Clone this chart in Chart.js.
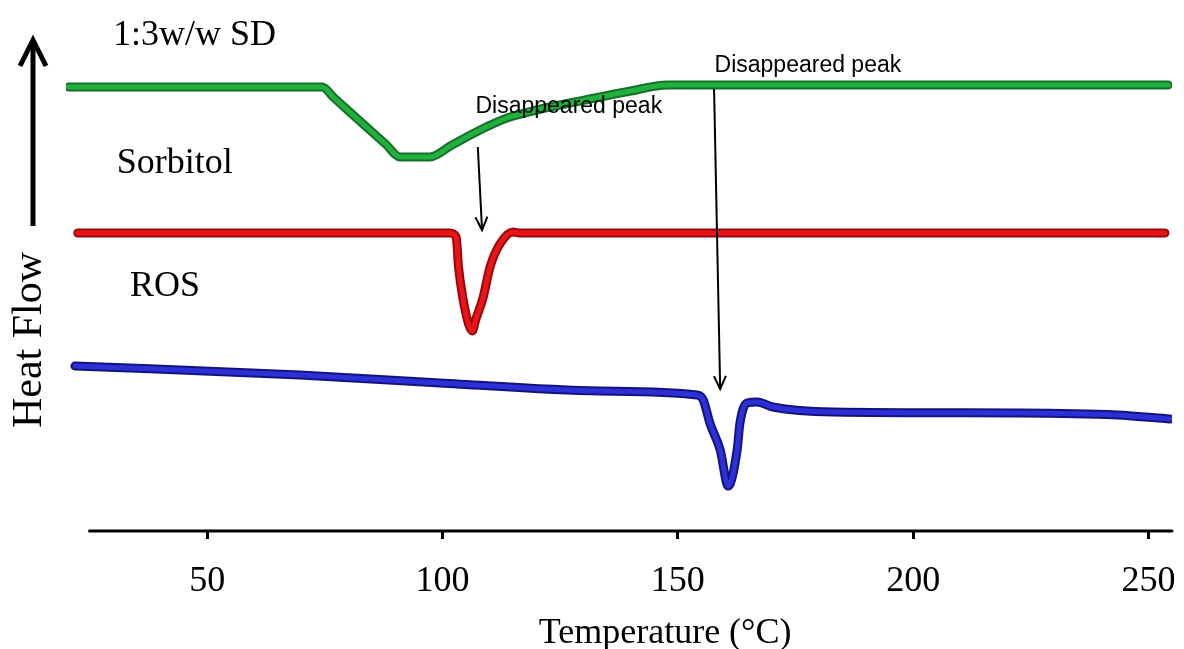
<!DOCTYPE html>
<html>
<head>
<meta charset="utf-8">
<script src="https://cdn.jsdelivr.net/npm/chart.js@4.4.1/dist/chart.umd.min.js"></script>
<style>
  html, body { margin: 0; padding: 0; background: #fff; }
  #wrap { width: 1184px; height: 649px; }
</style>
</head>
<body>
<div id="wrap"><canvas id="dsc"></canvas></div>
<script>
// temperature (°C) and heat flow (arbitrary units)
const sdTemp = [20.5, 74.4, 77.0, 88.0, 91.0, 97.3, 102.0, 108.0, 113.7, 120.0, 131.3, 140.0, 147.7, 254.2];
const sdFlow = [88.8, 88.8, 86.6, 77.3, 74.8, 74.8, 77.2, 80.2, 82.6, 84.2, 86.4, 88.0, 89.2, 89.2];

const sorbTemp = [22.5, 101.5, 102.9, 103.4, 104.4, 105.6, 106.3, 107.1, 108.6, 110.1, 112.2, 115.0, 116.3, 253.5];
const sorbFlow = [59.6, 59.6, 58.8, 52.8, 46.2, 41.2, 40.0, 42.4, 46.6, 52.8, 57.4, 59.8, 59.6, 59.6];

const rosTemp = [21.9, 69.7, 99.5, 133.5, 154.1, 155.4, 156.8, 159.0, 160.7, 162.6, 163.2, 164.7, 166.8, 170.2, 183.0, 222.7, 243.3, 254.6];
const rosFlow = [33.0, 31.2, 29.6, 28.0, 27.2, 26.2, 21.6, 16.2, 9.0, 16.2, 21.6, 25.6, 25.8, 24.8, 23.8, 23.6, 23.2, 22.4];

const xTicks = [50, 100, 150, 200, 250];

const toPts = (xs, ys) => xs.map((x, i) => ({ x: x, y: ys[i] }));

// each curve = bright core drawn over a dark outline (dataset 0 is drawn last)
let curve = (xs, ys, edge, core, mode) => [
  { data: toPts(xs, ys), borderColor: core, borderWidth: 5, cubicInterpolationMode: mode },
  { data: toPts(xs, ys), borderColor: edge, borderWidth: 9, cubicInterpolationMode: mode }
];

const serif = '"Liberation Serif", "Times New Roman", serif';
const sans = '"Liberation Sans", Arial, sans-serif';

// labels and arrows, placed in data coordinates
const labels = [
  { text: '1:3w/w SD', x: 30.0, y: 99.0, font: '36px ' + serif },
  { text: 'Sorbitol', x: 30.8, y: 73.4, font: '36px ' + serif },
  { text: 'ROS', x: 33.6, y: 48.8, font: '36px ' + serif },
  { text: 'Disappeared peak', x: 107.0, y: 84.8, font: '23px ' + sans },
  { text: 'Disappeared peak', x: 157.8, y: 93.0, font: '23px ' + sans }
];
const arrows = [
  { x1: 107.5, y1: 76.8, x2: 108.4, y2: 60.2 },
  { x1: 157.7, y1: 88.4, x2: 159.0, y2: 28.4 }
];

let head = (ctx, x1, y1, x2, y2, len, wing) => {
  const a = Math.atan2(y2 - y1, x2 - x1);
  ctx.beginPath();
  ctx.moveTo(x2 - len * Math.cos(a) + wing * Math.sin(a), y2 - len * Math.sin(a) - wing * Math.cos(a));
  ctx.lineTo(x2, y2);
  ctx.lineTo(x2 - len * Math.cos(a) - wing * Math.sin(a), y2 - len * Math.sin(a) + wing * Math.cos(a));
  ctx.stroke();
};

const decor = {
  id: 'decor',
  afterDatasetsDraw(chart) {
    const ctx = chart.ctx;
    const xs = chart.scales.x, ys = chart.scales.y;
    ctx.save();
    ctx.fillStyle = '#000';
    ctx.strokeStyle = '#000';
    ctx.textBaseline = 'middle';
    ctx.textAlign = 'left';
    labels.forEach(l => {
      ctx.font = l.font;
      ctx.fillText(l.text, xs.getPixelForValue(l.x), ys.getPixelForValue(l.y));
    });
    ctx.lineWidth = 2;
    arrows.forEach(a => {
      const x1 = xs.getPixelForValue(a.x1), y1 = ys.getPixelForValue(a.y1);
      const x2 = xs.getPixelForValue(a.x2), y2 = ys.getPixelForValue(a.y2);
      ctx.beginPath();
      ctx.moveTo(x1, y1);
      ctx.lineTo(x2, y2);
      ctx.stroke();
      head(ctx, x1, y1, x2, y2, 13, 6);
    });

    // x axis line
    const base = chart.chartArea.bottom;
    ctx.lineWidth = 3;
    ctx.lineCap = 'round';
    ctx.beginPath();
    ctx.moveTo(xs.getPixelForValue(25), base);
    ctx.lineTo(xs.getPixelForValue(255), base);
    ctx.stroke();

    // axis title
    ctx.font = '36px ' + serif;
    ctx.textAlign = 'center';
    ctx.fillText('Temperature (°C)', xs.getPixelForValue(147.3), 634);

    // heat flow arrow
    ctx.lineWidth = 5;
    ctx.lineCap = 'butt';
    ctx.beginPath();
    ctx.moveTo(33, 226);
    ctx.lineTo(33, 42);
    ctx.stroke();
    ctx.lineJoin = 'miter';
    head(ctx, 33, 226, 33, 40, 26, 13);

    ctx.translate(30, 340);
    ctx.rotate(-Math.PI / 2);
    ctx.font = '42px ' + serif;
    ctx.fillText('Heat Flow', 0, 0);
    ctx.restore();
  }
};

const config = {
  type: 'line',
  data: {
    datasets: [
      ...curve(sdTemp, sdFlow, '#14702a', '#21b03c', 'monotone'),
      ...curve(sorbTemp, sorbFlow, '#9c0606', '#e8141c', 'monotone'),
      ...curve(rosTemp, rosFlow, '#14147e', '#2d30d6', 'monotone')
    ]
  },
  options: {
    responsive: true,
    maintainAspectRatio: false,
    animation: false,
    events: [],
    layout: { padding: { left: 66, right: 12, top: 31, bottom: 0 } },
    elements: {
      point: { radius: 0 },
      line: { tension: 0, borderCapStyle: 'round', borderJoinStyle: 'round' }
    },
    plugins: { legend: { display: false }, tooltip: { enabled: false } },
    scales: {
      x: {
        type: 'linear',
        min: 20,
        max: 255,
        afterBuildTicks: s => { s.ticks = xTicks.map(v => ({ value: v })); },
        afterFit: s => { s.height = 118; s.paddingLeft = 0; s.paddingRight = 0; },
        border: { display: false },
        grid: { drawOnChartArea: false, color: '#000', lineWidth: 3, tickLength: 8 },
        ticks: { color: '#000', font: { family: serif, size: 36 }, padding: 21, maxRotation: 0 }
      },
      y: { min: 0, max: 100, display: false }
    }
  },
  plugins: [decor]
};

const chart = new Chart(document.getElementById('dsc'), config);
</script>
</body>
</html>
